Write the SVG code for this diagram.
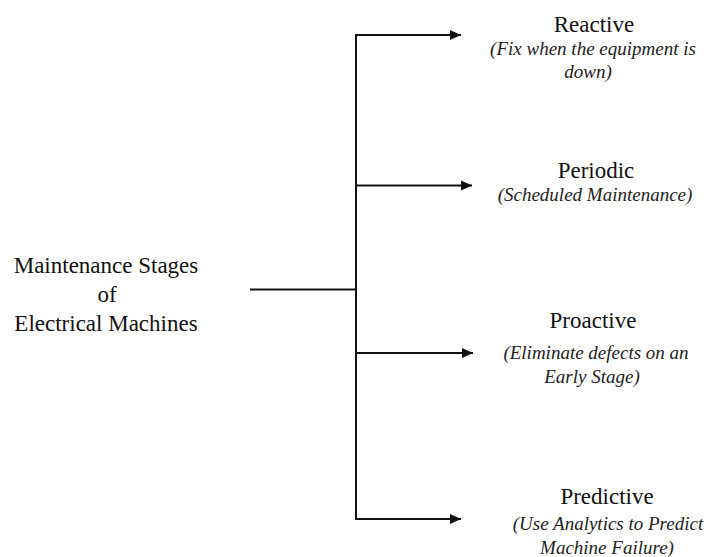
<svg xmlns="http://www.w3.org/2000/svg" width="708" height="557" viewBox="0 0 708 557">
<style>
text{font-family:'Liberation Serif','Tinos','DejaVu Serif',serif;text-anchor:middle}
.t{font-size:23px;fill:#111}
.s{font-size:19px;font-style:italic;fill:#222}
.c{stroke:#111;stroke-width:2;fill:none}
</style>
<defs>
<marker id="ah" markerUnits="userSpaceOnUse" markerWidth="12" markerHeight="12" viewBox="0 0 12 12" refX="11" refY="6" orient="auto">
<path d="M0,1 L11,6 L0,11 Z" fill="#111"/>
</marker>
</defs>
<g id="connectors">
<path class="c" d="M250,289.5 H356"/>
<path class="c" d="M356,34 V520"/>
<path class="c" d="M355,35 H461" marker-end="url(#ah)"/>
<path class="c" d="M355,185.5 H472" marker-end="url(#ah)"/>
<path class="c" d="M355,353 H473" marker-end="url(#ah)"/>
<path class="c" d="M355,519 H461" marker-end="url(#ah)"/>
</g>
<g id="root">
<text class="t" x="106" y="273" font-family="Liberation Serif">Maintenance Stages</text>
<text class="t" x="107" y="302" font-family="Liberation Serif">of</text>
<text class="t" x="106" y="331" font-family="Liberation Serif">Electrical Machines</text>
</g>
<g id="reactive">
<text class="t" x="594" y="32">Reactive</text>
<text class="s" x="593" y="55">(Fix when the equipment is</text>
<text class="s" x="588" y="78">down)</text>
</g>
<g id="periodic">
<text class="t" x="596" y="178">Periodic</text>
<text class="s" x="595" y="201">(Scheduled Maintenance)</text>
</g>
<g id="proactive">
<text class="t" x="593" y="328">Proactive</text>
<text class="s" x="596" y="359">(Eliminate defects on an</text>
<text class="s" x="592" y="383">Early Stage)</text>
</g>
<g id="predictive">
<text class="t" x="607" y="504">Predictive</text>
<text class="s" x="608" y="530">(Use Analytics to Predict</text>
<text class="s" x="607" y="554">Machine Failure)</text>
</g>
</svg>
